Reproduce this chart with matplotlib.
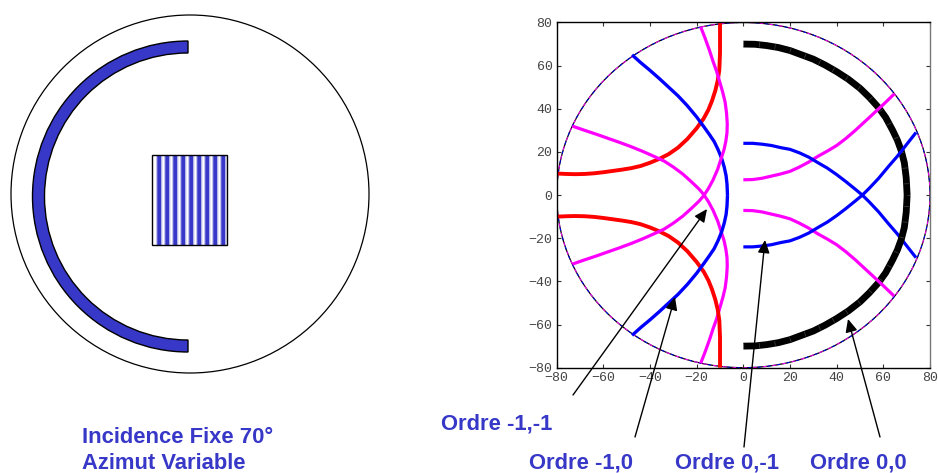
import matplotlib
matplotlib.use('Agg')
import matplotlib.pyplot as plt
from matplotlib.patches import Circle, Rectangle, Wedge

# values, upper half only, the lower half is the mirror
red_x = [-80, -76, -72, -68, -64, -60, -56, -52, -48, -44, -40, -36, -32, -28, -24, -20, -17, -15, -13.5, -12, -11, -10.3, -10, -10]
red_y = [10, 9.8, 9.7, 9.8, 10.1, 10.6, 11.2, 11.8, 12.5, 13.5, 15, 16.8, 19, 22, 26, 31, 35.5, 39.5, 43.5, 48.5, 53, 58, 66, 80]

magenta_left_x = [-73.3, -68, -63, -58, -53, -48, -43, -38, -34, -30, -26, -22, -19, -17, -15, -13, -11, -9.5, -8.3, -7.5, -7, -6.9, -7.2, -7.8, -8.8, -10, -11.5, -13, -14.5, -16.5, -18.3]
magenta_left_y = [32, 30, 28.2, 26.3, 24.4, 22.4, 20.2, 17.8, 15.8, 13, 9.8, 5.9, 2.8, 0.3, -3, -7, -12, -17, -21, -25, -29, -33, -38, -43, -47.5, -52, -57.5, -62, -67, -73, -78]

blue_left_x = [-47.7, -44, -40, -36, -32, -28, -24, -20, -17, -14.5, -12.5, -10.8, -9.3, -8.2, -7.4, -7, -6.8]
blue_left_y = [65, 61.4, 57.8, 54, 50, 46, 41.4, 36.2, 31.8, 28, 24.8, 21, 17, 13, 9, 5, 0]

black_x = [0, 5, 10, 15, 20, 25, 30, 35, 40, 45, 50, 54, 58, 61, 64, 66, 67.7, 69, 69.8, 70.2]
black_y = [70, 69.9, 69.3, 68.4, 67, 65, 63, 60.3, 57.2, 53.7, 49.5, 45.3, 40.5, 36, 30, 25.5, 20.5, 15, 8, 0]

blue_right_x = [0, 4, 8, 12, 16, 20, 24, 28, 32, 36, 40, 44, 48, 51, 54, 58, 62, 66, 70, 74]
blue_right_y = [24, 24, 23.6, 23, 22, 21.2, 19.6, 17.6, 15, 12.5, 9.5, 6.2, 2.7, 0, -3.2, -7.8, -13, -18, -23.5, -29]

magenta_right_x = [0, 4, 8, 12, 16, 20, 24, 28, 32, 36, 40, 44, 48, 52, 56, 60, 64.6]
magenta_right_y = [7.1, 7.2, 7.8, 8.8, 9.8, 11, 13, 15.3, 18, 20.4, 23, 26.3, 30, 34, 38, 42, 46.8]

ticks = [-80, -60, -40, -20, 0, 20, 40, 60, 80]
tick_labels = ['\u221280', '\u221260', '\u221240', '\u221220', '0', '20', '40', '60', '80']

BLUE = '#3737c8'
W, H = 938, 473

fig = plt.figure(figsize=(W / 100, H / 100), dpi=100)

# chart on the right
ax = fig.add_axes([556.7 / W, 1 - 367.7 / H, (930 - 556.7) / W, (367.7 - 22.5) / H])
ax.set_xlim(-80, 80)
ax.set_ylim(-80, 80)
ax.set_xticks(ticks)
ax.set_yticks(ticks)
ax.set_xticklabels(tick_labels)
ax.set_yticklabels(tick_labels)
ax.tick_params(direction='in', length=3, width=0.8, top=True, right=True, color='#333333',
               labelcolor='#444444', labelsize=9.5, pad=3)
for lab in ax.get_xticklabels() + ax.get_yticklabels():
    lab.set_family('Liberation Mono')
for s in ax.spines.values():
    s.set_linewidth(1.0)
ax.spines['right'].set_color('#777777')

ax.add_patch(Circle((0, 0), 80, fill=False, ec='black', lw=0.9))
ax.add_patch(Circle((0, 0), 80, fill=False, ec='magenta', lw=0.7, ls=(0, (4, 6))))
ax.add_patch(Circle((0, 0), 80, fill=False, ec='blue', lw=0.7, ls=(5, (3, 7))))

for sign in [1, -1]:
    ax.plot(black_x, [sign * v for v in black_y], color='black', lw=4.9, solid_capstyle='butt')
    ax.plot(black_x, [sign * v for v in black_y], color='white', lw=3.6, alpha=0.25, ls=(0, (0.15, 3)))
    ax.plot(red_x, [sign * v for v in red_y], color='red', lw=2.8, solid_capstyle='butt')
    ax.plot(magenta_left_x, [sign * v for v in magenta_left_y], color='magenta', lw=2.3, solid_capstyle='butt')
    ax.plot(magenta_right_x, [sign * v for v in magenta_right_y], color='magenta', lw=2.3, solid_capstyle='butt')
    ax.plot(blue_right_x, [sign * v for v in blue_right_y], color='blue', lw=2.3, solid_capstyle='butt')
    ax.plot(blue_left_x, [sign * v for v in blue_left_y], color='blue', lw=2.4, solid_capstyle='butt')

# overlay in pixels for the schematic, the arrows and the captions
top = fig.add_axes([0, 0, 1, 1])
top.set_xlim(0, W)
top.set_ylim(H, 0)
top.axis('off')
top.patch.set_alpha(0)

top.add_patch(Circle((190, 194), 179, fill=False, ec='black', lw=0.9))
top.add_patch(Wedge((188, 196.5), 155.5, 90, 270, width=12, fc=BLUE, ec='black', lw=1.0))

top.add_patch(Rectangle((152, 155), 75, 90, fc='white', ec='none'))
for i in range(9):
    top.add_patch(Rectangle((156 + 8 * i, 155), 6.4, 90, fc='#c4c4ee', ec='none', snap=False))
    top.add_patch(Rectangle((157.3 + 8 * i, 155), 3.8, 90, fc=BLUE, ec='none', snap=False))
top.add_patch(Rectangle((152, 155), 75, 90, fill=False, ec='black', lw=1.0))

arrows = [((573, 395), (707, 209)), ((635, 437), (675, 297)),
          ((744, 447), (765, 240)), ((880, 437), (848, 319))]
for start, tip in arrows:
    top.annotate('', xy=tip, xytext=start,
                 arrowprops=dict(arrowstyle='-|>,head_length=0.65,head_width=0.3', color='black',
                                 lw=1.0, shrinkA=0, shrinkB=0, mutation_scale=12))

captions = [(82, 443, 'Incidence Fixe 70\u00b0'), (82, 469, 'Azimut Variable'),
            (441, 429, 'Ordre -1,-1'), (529, 468, 'Ordre -1,0'),
            (675, 468, 'Ordre 0,-1'), (810, 468, 'Ordre 0,0')]
for x, y, txt in captions:
    top.text(x, y, txt, color=BLUE, family='Liberation Sans', weight='bold', fontsize=15.8,
             ha='left', va='baseline')

fig.savefig('out.png', dpi=100)
